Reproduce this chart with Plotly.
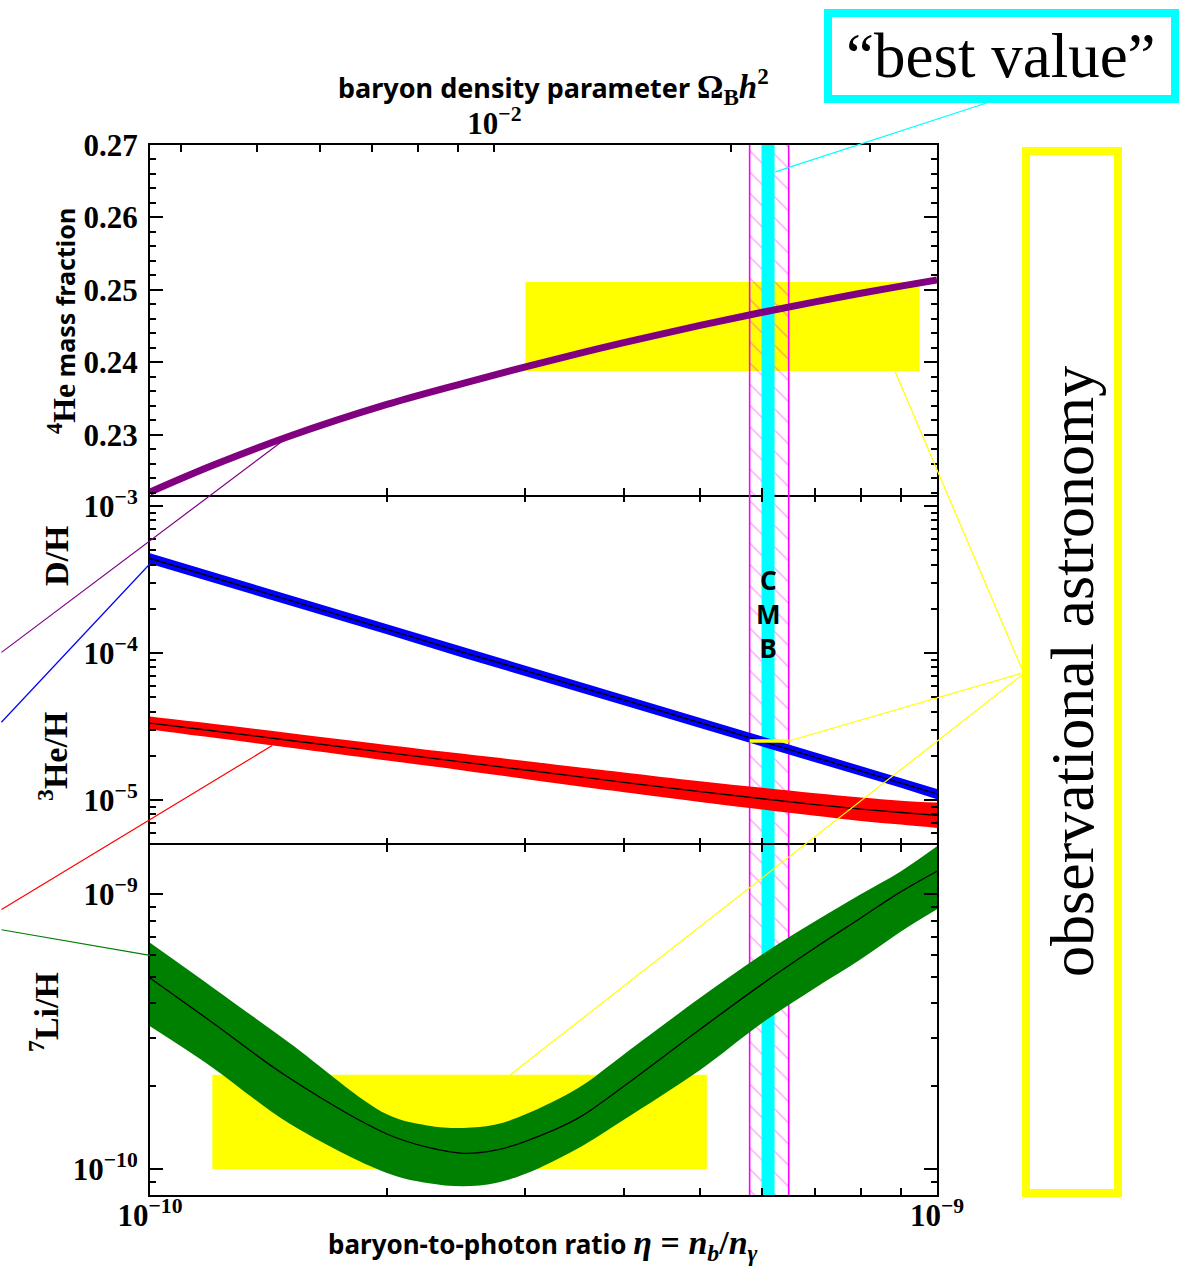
import math
import plotly.graph_objects as go

# ---------------- data ----------------
ETA = [1.0e-10, 1.2e-10, 1.5e-10, 2.0e-10, 2.5e-10, 3.0e-10, 3.5e-10,
       4.0e-10, 5.0e-10, 6.0e-10, 7.0e-10, 8.0e-10, 9.0e-10, 1.0e-9]

HE4_YP = [0.22210, 0.22576, 0.22977, 0.23420, 0.23712, 0.23938, 0.24120,
          0.24272, 0.24510, 0.24692, 0.24836, 0.24954, 0.25053, 0.25137]

DH_MID = [4.40e-4, 3.28e-4, 2.30e-4, 1.45e-4, 1.01e-4, 7.6e-5, 5.9e-5,
          4.8e-5, 3.35e-5, 2.50e-5, 1.95e-5, 1.58e-5, 1.31e-5, 1.10e-5]
DH_LO = [4.05e-4, 3.03e-4, 2.12e-4, 1.34e-4, 9.3e-5, 7.0e-5, 5.45e-5,
         4.42e-5, 3.09e-5, 2.30e-5, 1.80e-5, 1.46e-5, 1.21e-5, 1.01e-5]
DH_HI = [4.77e-4, 3.56e-4, 2.50e-4, 1.57e-4, 1.10e-4, 8.25e-5, 6.4e-5,
         5.2e-5, 3.63e-5, 2.71e-5, 2.12e-5, 1.71e-5, 1.42e-5, 1.19e-5]

HE3_MID = [3.34e-5, 2.96e-5, 2.55e-5, 2.10e-5, 1.81e-5, 1.60e-5, 1.44e-5,
           1.32e-5, 1.14e-5, 1.02e-5, 9.3e-6, 8.67e-6, 8.22e-6, 7.87e-6]
HE3_LO = [3.02e-5, 2.66e-5, 2.28e-5, 1.86e-5, 1.59e-5, 1.39e-5, 1.24e-5,
          1.13e-5, 9.7e-6, 8.6e-6, 7.8e-6, 7.2e-6, 6.8e-6, 6.45e-6]
HE3_HI = [3.70e-5, 3.30e-5, 2.86e-5, 2.37e-5, 2.06e-5, 1.84e-5, 1.67e-5,
          1.54e-5, 1.34e-5, 1.21e-5, 1.11e-5, 1.04e-5, 9.9e-6, 9.6e-6]

ETA_LI = [1.0e-10, 1.2e-10, 1.5e-10, 2.0e-10, 2.25e-10, 2.5e-10, 2.75e-10, 3.0e-10,
          3.5e-10, 4.0e-10, 5.0e-10, 6.0e-10, 7.0e-10, 8.0e-10, 9.0e-10, 1.0e-9]
LI7_MID = [4.95e-10, 3.41e-10, 2.15e-10, 1.34e-10, 1.20e-10, 1.14e-10, 1.17e-10, 1.26e-10,
           1.53e-10, 2.00e-10, 3.22e-10, 4.71e-10, 6.37e-10, 8.18e-10, 1.02e-9, 1.21e-9]
LI7_LO = [3.30e-10, 2.34e-10, 1.47e-10, 9.67e-11, 8.89e-11, 8.65e-11, 8.89e-11, 9.6e-11,
          1.19e-10, 1.51e-10, 2.29e-10, 3.40e-10, 4.55e-10, 5.79e-10, 7.31e-10, 8.8e-10]
LI7_HI = [6.64e-10, 4.58e-10, 2.89e-10, 1.58e-10, 1.44e-10, 1.41e-10, 1.45e-10, 1.58e-10,
          1.97e-10, 2.61e-10, 4.19e-10, 6.04e-10, 7.96e-10, 9.98e-10, 1.21e-9, 1.49e-9]

# observational boxes / values
HE4_OBS_ETA = [3.0e-10, 9.5e-10]
HE4_OBS_YP = [0.2388, 0.2511]
LI7_OBS_ETA = [1.2e-10, 5.1e-10]
LI7_OBS = [1.0e-10, 2.2e-10]
DH_OBS = 2.52e-5

# CMB
CMB_ETA_RANGE = [5.78e-10, 6.48e-10]
CMB_BEST_ETA = 6.10e-10

# axes
ETA_RANGE = [1e-10, 1e-9]
HE_RANGE = [0.2217, 0.27]
DH_RANGE = [4.94e-6, 1.19e-3]
LI_RANGE = [8.04e-11, 1.507e-9]
ETA10_PER_OMEGA = 273.9          # eta_10 = 273.9 * Omega_B h^2
OMEGA_TICKS = [0.004, 0.005, 0.006, 0.007, 0.008, 0.009, 0.01, 0.02, 0.03]
OMEGA_TICKTEXT = ["", "", "", "", "", "", "10<sup>\u22122</sup>", "", ""]

ETA_MAJOR = [1e-10, 1e-9]
ETA_MAJOR_TEXT = ["10<sup>\u221210</sup>", "10<sup>\u22129</sup>"]
ETA_MINOR = [2e-10, 3e-10, 4e-10, 5e-10, 6e-10, 7e-10, 8e-10, 9e-10]
HE_MAJOR = [0.23, 0.24, 0.25, 0.26, 0.27]
HE_MAJOR_TEXT = ["0.23", "0.24", "0.25", "0.26", "0.27"]
DH_MAJOR = [1e-5, 1e-4, 1e-3]
DH_MAJOR_TEXT = ["10<sup>\u22125</sup>", "10<sup>\u22124</sup>", "10<sup>\u22123</sup>"]
DH_MINOR = [6e-6, 7e-6, 8e-6, 9e-6, 2e-5, 3e-5, 4e-5, 5e-5, 6e-5, 7e-5, 8e-5, 9e-5,
            2e-4, 3e-4, 4e-4, 5e-4, 6e-4, 7e-4, 8e-4, 9e-4]
LI_MAJOR = [1e-10, 1e-9]
LI_MAJOR_TEXT = ["10<sup>\u221210</sup>", "10<sup>\u22129</sup>"]
LI_MINOR = [9e-11, 2e-10, 3e-10, 4e-10, 5e-10, 6e-10, 7e-10, 8e-10, 9e-10]

# ---------------- styling ----------------
PURPLE = "#800080"
BLUE = "#0000FF"
RED = "#FF0000"
GREEN = "#008000"
YELLOW = "#FFFF00"
CYAN = "#00FFFF"
MAGENTA = "#FF00FF"
SERIF = "Liberation Serif"
SANS = "Noto Sans"

W, H = 1181, 1266
ML, MR, MT, MB = 150, 244, 145, 71

fig = go.Figure()
lg = math.log10


def band(xs, xa, ya, lo, hi, mid, color, shape="linear"):
    ln = dict(width=0, color=color, shape=shape)
    if shape == "spline":
        ln["smoothing"] = 1.0
    fig.add_trace(go.Scatter(x=xs, y=lo, xaxis=xa, yaxis=ya, mode="lines", line=ln,
                             hoverinfo="skip", showlegend=False))
    fig.add_trace(go.Scatter(x=xs, y=hi, xaxis=xa, yaxis=ya, mode="lines", line=ln,
                             fill="tonexty", fillcolor=color,
                             hoverinfo="skip", showlegend=False))
    lm = dict(ln, width=1.3, color="black")
    fig.add_trace(go.Scatter(x=xs, y=mid, xaxis=xa, yaxis=ya, mode="lines", line=lm,
                             hoverinfo="skip", showlegend=False))


def cmb(xa, ya, ylo, yhi):
    fig.add_trace(go.Scatter(
        x=[CMB_ETA_RANGE[0], CMB_ETA_RANGE[0], CMB_ETA_RANGE[1], CMB_ETA_RANGE[1], CMB_ETA_RANGE[0]],
        y=[ylo, yhi, yhi, ylo, ylo], xaxis=xa, yaxis=ya, mode="lines",
        line=dict(color=MAGENTA, width=1.6), fill="toself",
        fillcolor="rgba(0,0,0,0)",
        fillpattern=dict(shape="\\", fgcolor=MAGENTA, fgopacity=0.4,
                         bgcolor="rgba(0,0,0,0)", size=15, solidity=0.08,
                         fillmode="overlay"),
        hoverinfo="skip", showlegend=False))
    fig.add_trace(go.Scatter(x=[CMB_BEST_ETA, CMB_BEST_ETA], y=[ylo, yhi],
                             xaxis=xa, yaxis=ya, mode="lines",
                             line=dict(color=CYAN, width=13),
                             hoverinfo="skip", showlegend=False))


# panel 1 : 4He
cmb("x", "y", 0.20, 0.29)
fig.add_trace(go.Scatter(x=ETA, y=HE4_YP, xaxis="x", yaxis="y", mode="lines",
                         line=dict(color=PURPLE, width=7, shape="spline"),
                         hoverinfo="skip", showlegend=False))
# anchor trace for the top (Omega_B h^2) axis
fig.add_trace(go.Scatter(x=[OMEGA_TICKS[6]], y=[0.25], xaxis="x4", yaxis="y",
                         mode="markers", marker=dict(opacity=0),
                         hoverinfo="skip", showlegend=False))

# panel 2 : D/H and 3He/H
cmb("x2", "y2", 1e-6, 1e-2)
band(ETA, "x2", "y2", DH_LO, DH_HI, DH_MID, BLUE)
band(ETA, "x2", "y2", HE3_LO, HE3_HI, HE3_MID, RED, shape="spline")
fig.add_trace(go.Scatter(x=CMB_ETA_RANGE, y=[DH_OBS, DH_OBS], xaxis="x2", yaxis="y2",
                         mode="lines", line=dict(color=YELLOW, width=3.5),
                         hoverinfo="skip", showlegend=False))

# panel 3 : 7Li/H
cmb("x3", "y3", 1e-11, 1e-8)
band(ETA_LI, "x3", "y3", LI7_LO, LI7_HI, LI7_MID, GREEN, shape="spline")

shapes = []
shapes.append(dict(type="rect", xref="x", yref="y", layer="below",
                   x0=HE4_OBS_ETA[0], x1=HE4_OBS_ETA[1], y0=HE4_OBS_YP[0], y1=HE4_OBS_YP[1],
                   fillcolor=YELLOW, line=dict(width=0)))
shapes.append(dict(type="rect", xref="x3", yref="y3", layer="below",
                   x0=LI7_OBS_ETA[0], x1=LI7_OBS_ETA[1], y0=LI7_OBS[0], y1=LI7_OBS[1],
                   fillcolor=YELLOW, line=dict(width=0)))


def px2paper_x(px):
    return (px - ML) / (W - ML - MR)


def px2paper_y(py):
    return (H - MB - py) / (H - MT - MB)


# "best value" frame
shapes.append(dict(type="rect", xref="paper", yref="paper",
                   x0=px2paper_x(828), x1=px2paper_x(1175),
                   y0=px2paper_y(99), y1=px2paper_y(13),
                   line=dict(color=CYAN, width=8), fillcolor="white", layer="above"))
# "observational astronomy" frame
shapes.append(dict(type="rect", xref="paper", yref="paper",
                   x0=px2paper_x(1026), x1=px2paper_x(1118),
                   y0=px2paper_y(1193), y1=px2paper_y(151),
                   line=dict(color=YELLOW, width=8), fillcolor="rgba(0,0,0,0)", layer="above"))

annotations = []


def connector(x, y, xref, yref, ax, ay, color, width=1.2):
    annotations.append(dict(x=x, y=y, xref=xref, yref=yref, ax=ax, ay=ay,
                            axref="pixel", ayref="pixel", text="", showarrow=True,
                            arrowhead=0, arrowwidth=width, arrowcolor=color,
                            standoff=0, startstandoff=0))


def label(text, px, py, size, family, angle=0, bold=False, xref="paper", x=None):
    font = dict(family=family, size=size, color="black")
    if bold:
        font["weight"] = "bold"
    annotations.append(dict(text=text, xref=xref, yref="paper",
                            x=px2paper_x(px) if x is None else x, y=px2paper_y(py),
                            xanchor="center", yanchor="middle", showarrow=False,
                            textangle=angle, font=font))


# lines leaving to the left
connector(lg(ETA[2]), HE4_YP[2], "x", "y", -299, 217, PURPLE)
connector(lg(ETA[0]), lg(DH_LO[0]), "x2", "y2", -160, 160, BLUE)
connector(lg(1.43e-10), lg(HE3_LO[2] * 1.03), "x2", "y2", -285, 165, RED)
connector(lg(ETA_LI[0]), lg(LI7_HI[0] * 0.9), "x3", "y3", -160, -26, GREEN)
# yellow lines to the observational box
connector(lg(8.84e-10), HE4_OBS_YP[0], "x", "y", 128, 300, YELLOW)
connector(lg(CMB_ETA_RANGE[1]), lg(DH_OBS), "x2", "y2", 234, -68, YELLOW)
connector(lg(2.87e-10), lg(LI7_OBS[1]), "x3", "y3", 513, -401, YELLOW)
# cyan line to "best value"
connector(lg(6.23e-10), 0.2663, "x", "y", 215, -70, CYAN)

# texts
label("\u201cbest value\u201d", 1001, 56, 63, SERIF)
label("observational astronomy", 1072, 672, 62, SERIF, angle=-90)
label("C<br>M<br>B", 0, 614, 26, SANS, bold=True, xref="x2", x=lg(CMB_BEST_ETA))
label("baryon density parameter "
      "<span style='font-family:Liberation Serif;font-size:33px'>\u03a9<sub>B</sub><i>h</i><sup>2</sup></span>",
      553, 87, 27, SANS, bold=True)
label("baryon-to-photon ratio "
      "<span style='font-family:Liberation Serif;font-size:34px'><i>\u03b7</i>&nbsp;=&nbsp;<i>n</i><sub><i>b</i></sub>/<i>n</i><sub><i>\u03b3</i></sub></span>",
      543, 1245, 26, SANS, bold=True)
label("<span style='font-family:Liberation Serif;font-size:32px'><sup>4</sup>He</span> mass fraction",
      62, 321, 25, SANS, angle=-90, bold=True)
label("D/H", 56, 556, 34, SERIF, angle=-90, bold=True)
label("<sup>3</sup>He/H", 53, 757, 34, SERIF, angle=-90, bold=True)
label("<sup>7</sup>Li/H", 44, 1012, 34, SERIF, angle=-90, bold=True)

tickfont = dict(family=SERIF, size=31, color="black", weight="bold")
minor_x = dict(tickmode="array", tickvals=ETA_MINOR, ticks="inside",
               ticklen=7, tickwidth=1.5, tickcolor="black")

xcommon = dict(type="log", range=[lg(ETA_RANGE[0]), lg(ETA_RANGE[1])],
               showgrid=False, zeroline=False, linecolor="black",
               linewidth=2, ticks="inside", ticklen=7, tickwidth=1.5, tickcolor="black",
               tickmode="array", tickvals=ETA_MAJOR, minor=minor_x, tickfont=tickfont)

ycommon = dict(showgrid=False, zeroline=False, showline=True, linecolor="black",
               linewidth=2, ticks="inside", ticklen=13, tickwidth=1.5, tickcolor="black",
               mirror="ticks", tickfont=tickfont, ticklabelstandoff=4)

fig.update_layout(
    width=W, height=H,
    margin=dict(l=ML, r=MR, t=MT, b=MB),
    paper_bgcolor="white", plot_bgcolor="white",
    showlegend=False,
    xaxis=dict(xcommon, anchor="y", domain=[0, 1], showline=True, mirror=True,
               ticktext=["", ""]),
    xaxis2=dict(xcommon, anchor="y2", domain=[0, 1], showline=False, mirror="ticks",
                ticktext=["", ""]),
    xaxis3=dict(xcommon, anchor="y3", domain=[0, 1], showline=True, mirror="ticks",
                ticktext=ETA_MAJOR_TEXT, ticklabelstandoff=-8),
    xaxis4=dict(type="log", overlaying="x", side="top", anchor="y",
                range=[lg(ETA_RANGE[0] * 1e10 / ETA10_PER_OMEGA),
                       lg(ETA_RANGE[1] * 1e10 / ETA10_PER_OMEGA)],
                tickmode="array", tickvals=OMEGA_TICKS, ticktext=OMEGA_TICKTEXT,
                ticks="inside", ticklen=7, tickwidth=1.5, tickcolor="black",
                showgrid=False, zeroline=False, showline=False, tickfont=tickfont,
                ticklabelstandoff=4),
    yaxis=dict(ycommon, anchor="x", domain=[2 / 3, 1], range=HE_RANGE,
               tickmode="array", tickvals=HE_MAJOR, ticktext=HE_MAJOR_TEXT,
               minor=dict(tickmode="linear", tick0=0.22, dtick=0.002, ticks="inside",
                          ticklen=6, tickwidth=1.5, tickcolor="black")),
    yaxis2=dict(ycommon, anchor="x2", domain=[1 / 3, 2 / 3], type="log",
                range=[lg(DH_RANGE[0]), lg(DH_RANGE[1])],
                tickmode="array", tickvals=DH_MAJOR, ticktext=DH_MAJOR_TEXT,
                minor=dict(tickmode="array", tickvals=DH_MINOR, ticks="inside",
                           ticklen=6, tickwidth=1.5, tickcolor="black")),
    yaxis3=dict(ycommon, anchor="x3", domain=[0, 1 / 3], type="log",
                range=[lg(LI_RANGE[0]), lg(LI_RANGE[1])],
                tickmode="array", tickvals=LI_MAJOR, ticktext=LI_MAJOR_TEXT,
                minor=dict(tickmode="array", tickvals=LI_MINOR, ticks="inside",
                           ticklen=6, tickwidth=1.5, tickcolor="black")),
    shapes=shapes,
    annotations=annotations,
    hovermode=False,
)

fig.write_html("out.html", config={"displayModeBar": False},
               post_script="document.body.style.margin='0px';document.body.style.padding='0px';")
